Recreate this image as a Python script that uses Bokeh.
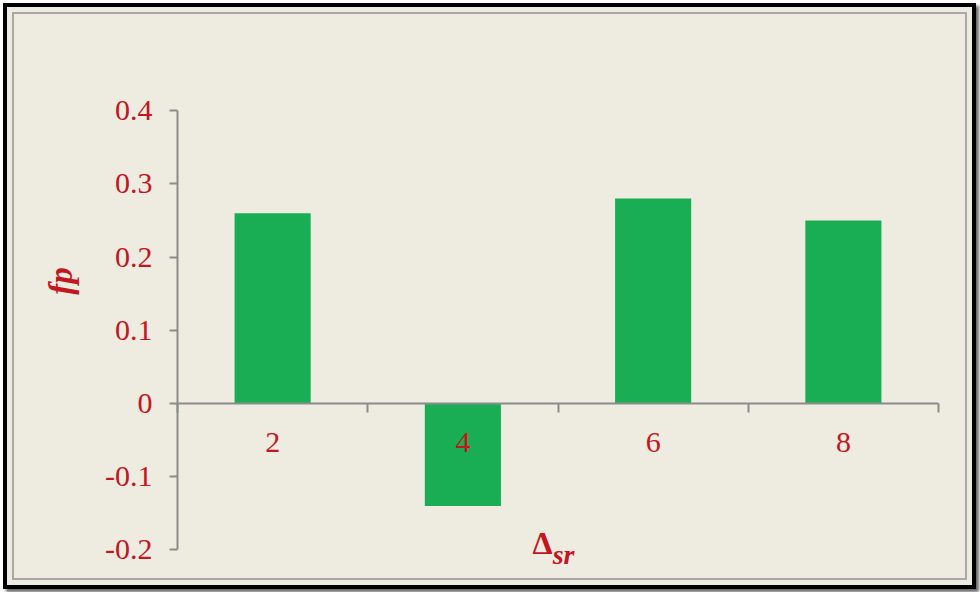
import math
from bokeh.plotting import figure
from bokeh.models import ColumnDataSource, FixedTicker, Range1d, Label
from bokeh.embed import file_html
from bokeh.resources import INLINE

categories = ["2", "4", "6", "8"]
fp_values = [0.26, -0.14, 0.28, 0.25]
y_ticks = [-0.2, -0.1, 0.0, 0.1, 0.2, 0.3, 0.4]
y_tick_labels = ["-0.2", "-0.1", "0", "0.1", "0.2", "0.3", "0.4"]

RED = "#C3161F"
GREEN = "#1AAE54"
BG = "#EEEBE1"
AXIS = "#8C8C8C"

xpos = [i + 0.5 for i in range(len(categories))]
src = ColumnDataSource(dict(x=xpos, top=fp_values, cat=categories))

W, H = 965, 578
p = figure(width=W, height=H, output_backend="svg", toolbar_location=None,
           x_range=Range1d(-0.8936, 4.1787), y_range=Range1d(-0.2486, 0.5410),
           min_border=0,
           background_fill_color=BG, border_fill_color=BG, outline_line_color=None,
           styles={"margin": "7px 0 0 7px",
                   "background-color": BG,
                   "box-shadow": ("inset 0 0 0 5px #EEEBE1, inset 0 0 0 7px #A8A8A8, "
                                  "0 0 0 4px #000, 3px 3px 3px 4px rgba(0,0,0,0.6)")})
p.border_fill_alpha = 0.0
p.background_fill_alpha = 0.0

p.vbar(x="x", top="top", bottom=0, width=0.4, source=src, color=GREEN, line_color=None)

p.grid.visible = False

# y axis at x = 0
ya = p.yaxis[0]
ya.fixed_location = 0
ya.bounds = (y_ticks[0], y_ticks[-1])
ya.ticker = FixedTicker(ticks=y_ticks)
ya.major_label_overrides = {t: l for t, l in zip(y_ticks, y_tick_labels)}
ya.minor_tick_line_color = None
ya.major_tick_out = 8
ya.major_tick_in = 0
ya.major_tick_line_color = AXIS
ya.major_tick_line_width = 2
ya.axis_line_color = AXIS
ya.axis_line_width = 2
ya.major_label_text_font = "Liberation Serif"
ya.major_label_text_font_size = "30px"
ya.major_label_text_color = RED
ya.major_label_standoff = 17

# x axis at y = 0
xa = p.xaxis[0]
xa.fixed_location = 0
xa.bounds = (0, len(categories))
xa.ticker = FixedTicker(ticks=xpos, minor_ticks=list(range(len(categories) + 1)))
xa.major_label_overrides = {x: c for x, c in zip(xpos, categories)}
xa.major_tick_out = 0
xa.major_tick_in = 0
xa.minor_tick_out = 9
xa.minor_tick_in = 0
xa.minor_tick_line_color = AXIS
xa.minor_tick_line_width = 2
xa.axis_line_color = AXIS
xa.axis_line_width = 2
xa.major_label_text_font = "Liberation Serif"
xa.major_label_text_font_size = "30px"
xa.major_label_text_color = RED
xa.major_label_standoff = 20

# y axis title: fp
p.add_layout(Label(x=-0.6124, y=0.1673, text="fp", angle=math.pi / 2,
                   text_font="Liberation Serif", text_font_style="bold italic",
                   text_font_size="33px", text_color=RED,
                   text_align="center", text_baseline="middle"))

# x axis title: Delta_sr
p.add_layout(Label(x=1.866, y=-0.1906, text="Δ", text_font="Liberation Serif",
                   text_font_style="bold", text_font_size="32px", text_color=RED,
                   text_align="left", text_baseline="middle"))
p.add_layout(Label(x=1.972, y=-0.2060, text="sr", text_font="Liberation Serif",
                   text_font_style="bold italic", text_font_size="28px", text_color=RED,
                   text_align="left", text_baseline="middle"))

open("out.html", "w").write(file_html(p, INLINE))
